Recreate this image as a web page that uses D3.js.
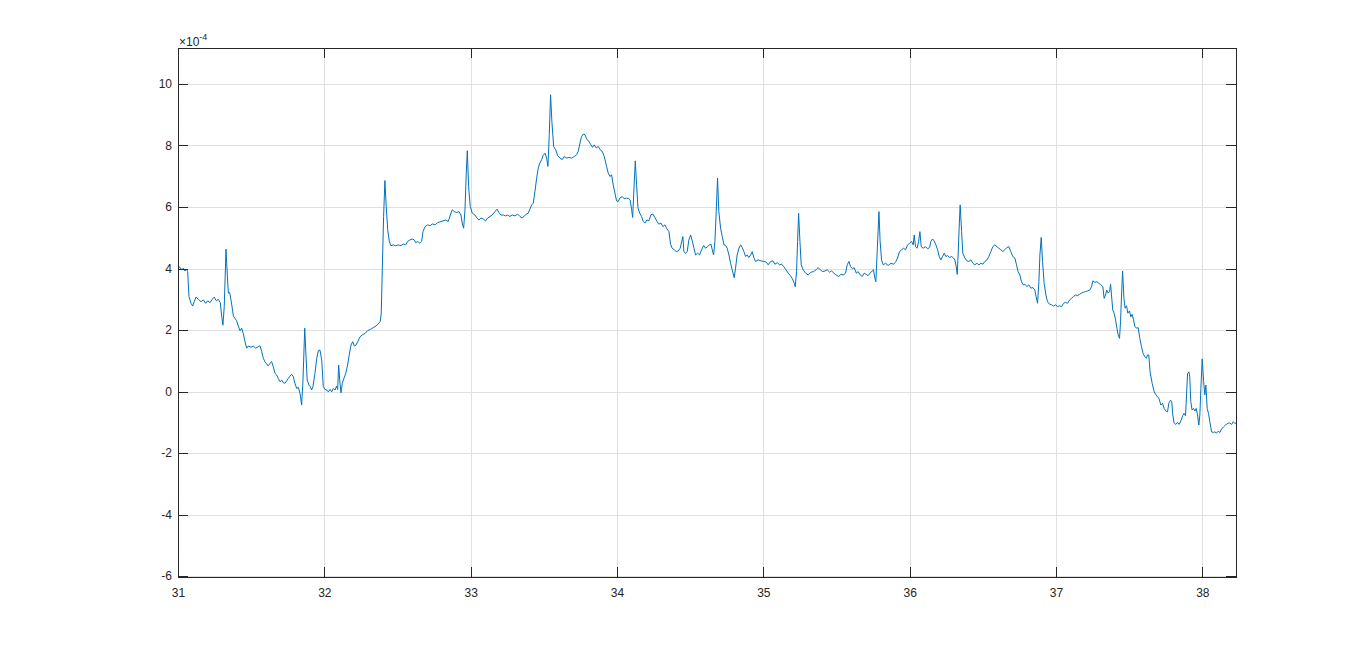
<!DOCTYPE html>
<html>
<head>
  <meta charset="utf-8">
  <title>Signal trace</title>
  <style>
    body { margin: 0; background: #ffffff; }
    .tick text { font-family: "Liberation Sans", Arial, Helvetica, sans-serif; font-size: 12px; fill: #262626; }
    .grid line { stroke: #dfdfdf; stroke-width: 1; shape-rendering: crispEdges; }
    .axis path, .axis line { stroke: #262626; shape-rendering: crispEdges; }
    .trace { fill: none; stroke: #0072bd; stroke-width: 1; }
  </style>
  <script src="https://cdn.jsdelivr.net/npm/d3@7"></script>
</head>
<body>
<script>
// time axis (x) and signal values (in units of 1e-4)
var time = [
  31.000, 31.014, 31.025, 31.036, 31.048, 31.059, 31.066, 31.075, 31.089, 31.100,
  31.111, 31.123, 31.139, 31.157, 31.173, 31.189, 31.203, 31.219, 31.234, 31.248,
  31.262, 31.275, 31.289, 31.299, 31.307, 31.316, 31.328, 31.337, 31.344, 31.353,
  31.362, 31.371, 31.378, 31.389, 31.401, 31.412, 31.424, 31.435, 31.446, 31.458,
  31.469, 31.480, 31.499, 31.514, 31.531, 31.549, 31.560, 31.572, 31.583, 31.594,
  31.606, 31.617, 31.629, 31.640, 31.651, 31.663, 31.674, 31.685, 31.697, 31.709,
  31.719, 31.731, 31.743, 31.754, 31.765, 31.777, 31.788, 31.799, 31.811, 31.822,
  31.834, 31.845, 31.854, 31.866, 31.875, 31.883, 31.895, 31.904, 31.913, 31.922,
  31.936, 31.948, 31.959, 31.970, 31.982, 31.993, 32.004, 32.016, 32.027, 32.039,
  32.050, 32.061, 32.073, 32.084, 32.091, 32.098, 32.105, 32.114, 32.123, 32.134,
  32.146, 32.159, 32.168, 32.182, 32.194, 32.205, 32.216, 32.228, 32.244, 32.259,
  32.278, 32.296, 32.314, 32.334, 32.353, 32.369, 32.382, 32.389, 32.396, 32.405,
  32.414, 32.423, 32.433, 32.444, 32.455, 32.471, 32.487, 32.505, 32.524, 32.539,
  32.556, 32.569, 32.585, 32.601, 32.615, 32.624, 32.638, 32.653, 32.665, 32.674,
  32.688, 32.706, 32.722, 32.738, 32.756, 32.774, 32.792, 32.811, 32.829, 32.847,
  32.861, 32.874, 32.888, 32.904, 32.920, 32.934, 32.942, 32.952, 32.961, 32.970,
  32.977, 32.986, 32.997, 33.011, 33.029, 33.043, 33.057, 33.070, 33.086, 33.102,
  33.116, 33.132, 33.147, 33.166, 33.180, 33.193, 33.207, 33.223, 33.239, 33.253,
  33.268, 33.284, 33.303, 33.321, 33.337, 33.352, 33.366, 33.382, 33.393, 33.405,
  33.417, 33.428, 33.439, 33.451, 33.462, 33.473, 33.485, 33.496, 33.508, 33.519,
  33.528, 33.537, 33.546, 33.555, 33.567, 33.581, 33.594, 33.610, 33.626, 33.639,
  33.656, 33.671, 33.690, 33.708, 33.724, 33.735, 33.747, 33.758, 33.769, 33.781,
  33.792, 33.808, 33.822, 33.833, 33.844, 33.858, 33.872, 33.885, 33.899, 33.913,
  33.929, 33.940, 33.952, 33.963, 33.974, 33.986, 33.997, 34.008, 34.020, 34.036,
  34.049, 34.066, 34.081, 34.090, 34.100, 34.107, 34.114, 34.125, 34.134, 34.143,
  34.155, 34.168, 34.179, 34.191, 34.204, 34.218, 34.232, 34.245, 34.259, 34.273,
  34.286, 34.300, 34.314, 34.327, 34.341, 34.355, 34.366, 34.377, 34.391, 34.405,
  34.418, 34.432, 34.442, 34.450, 34.457, 34.469, 34.480, 34.491, 34.503, 34.514,
  34.526, 34.537, 34.551, 34.564, 34.578, 34.592, 34.605, 34.619, 34.630, 34.642,
  34.651, 34.660, 34.669, 34.678, 34.687, 34.696, 34.708, 34.719, 34.731, 34.742,
  34.753, 34.765, 34.776, 34.787, 34.801, 34.810, 34.821, 34.833, 34.845, 34.856,
  34.867, 34.879, 34.890, 34.901, 34.913, 34.924, 34.936, 34.947, 34.965, 34.983,
  35.002, 35.020, 35.033, 35.050, 35.065, 35.079, 35.095, 35.111, 35.125, 35.140,
  35.154, 35.170, 35.184, 35.197, 35.209, 35.218, 35.227, 35.234, 35.241, 35.250,
  35.259, 35.272, 35.289, 35.307, 35.325, 35.343, 35.361, 35.375, 35.389, 35.405,
  35.421, 35.436, 35.453, 35.466, 35.482, 35.498, 35.514, 35.530, 35.546, 35.562,
  35.573, 35.585, 35.596, 35.610, 35.621, 35.635, 35.648, 35.662, 35.676, 35.689,
  35.703, 35.716, 35.730, 35.744, 35.753, 35.762, 35.769, 35.778, 35.790, 35.798,
  35.808, 35.819, 35.835, 35.853, 35.872, 35.890, 35.906, 35.917, 35.931, 35.945,
  35.958, 35.972, 35.986, 35.999, 36.013, 36.024, 36.031, 36.040, 36.051, 36.061,
  36.070, 36.079, 36.092, 36.109, 36.122, 36.136, 36.145, 36.156, 36.167, 36.179,
  36.191, 36.202, 36.213, 36.225, 36.236, 36.247, 36.259, 36.273, 36.286, 36.300,
  36.309, 36.318, 36.325, 36.331, 36.338, 36.345, 36.355, 36.363, 36.377, 36.391,
  36.404, 36.418, 36.432, 36.445, 36.459, 36.473, 36.487, 36.500, 36.514, 36.528,
  36.541, 36.555, 36.568, 36.582, 36.596, 36.609, 36.623, 36.637, 36.650, 36.664,
  36.678, 36.691, 36.705, 36.719, 36.730, 36.741, 36.753, 36.764, 36.776, 36.787,
  36.801, 36.814, 36.828, 36.842, 36.855, 36.864, 36.874, 36.883, 36.890, 36.899,
  36.908, 36.919, 36.931, 36.942, 36.956, 36.970, 36.983, 36.997, 37.011, 37.024,
  37.038, 37.052, 37.065, 37.079, 37.093, 37.106, 37.120, 37.133, 37.147, 37.161,
  37.174, 37.188, 37.202, 37.215, 37.231, 37.243, 37.252, 37.265, 37.279, 37.293,
  37.306, 37.320, 37.329, 37.338, 37.347, 37.356, 37.366, 37.373, 37.379, 37.388,
  37.397, 37.407, 37.416, 37.425, 37.434, 37.441, 37.448, 37.455, 37.464, 37.472,
  37.482, 37.491, 37.502, 37.511, 37.520, 37.530, 37.539, 37.552, 37.561, 37.573,
  37.584, 37.595, 37.607, 37.618, 37.625, 37.634, 37.643, 37.657, 37.671, 37.680,
  37.694, 37.705, 37.716, 37.728, 37.739, 37.750, 37.762, 37.771, 37.783, 37.791,
  37.798, 37.807, 37.819, 37.830, 37.841, 37.853, 37.865, 37.875, 37.885, 37.892,
  37.899, 37.908, 37.914, 37.921, 37.930, 37.940, 37.949, 37.958, 37.967, 37.976,
  37.983, 37.990, 37.999, 38.009, 38.017, 38.024, 38.033, 38.042, 38.051, 38.063,
  38.074, 38.085, 38.097, 38.108, 38.120, 38.131, 38.145, 38.158, 38.172, 38.186,
  38.200, 38.211, 38.222, 38.231
];
var signal = [
  4.06, 4.04, 3.95, 4.01, 3.92, 3.98, 3.90, 3.09, 2.87, 2.78,
  2.92, 3.07, 3.00, 2.92, 2.98, 2.87, 2.95, 2.89, 3.00, 3.07,
  2.95, 3.00, 2.89, 2.43, 2.16, 2.76, 4.63, 3.79, 3.20, 3.22,
  2.98, 2.71, 2.46, 2.38, 2.30, 2.13, 1.98, 2.06, 1.89, 1.62,
  1.41, 1.48, 1.44, 1.48, 1.41, 1.46, 1.49, 1.30, 1.08, 0.97,
  0.90, 0.83, 0.92, 0.97, 0.81, 0.59, 0.54, 0.43, 0.32, 0.37,
  0.29, 0.27, 0.35, 0.43, 0.50, 0.56, 0.48, 0.27, 0.10, 0.14,
  -0.06, -0.44, 0.37, 2.06, 1.13, 0.37, 0.21, 0.16, 0.05, 0.16,
  0.59, 1.08, 1.33, 1.35, 1.03, 0.16, 0.07, 0.05, -0.01, 0.07,
  -0.01, 0.10, 0.05, 0.18, 0.07, 0.86, 0.37, -0.04, 0.27, 0.43,
  0.59, 0.86, 1.13, 1.51, 1.62, 1.48, 1.51, 1.62, 1.78, 1.84,
  1.89, 1.98, 2.02, 2.08, 2.13, 2.20, 2.28, 2.55, 3.96, 5.69,
  6.86, 6.02, 5.26, 4.88, 4.74, 4.77, 4.74, 4.77, 4.74, 4.80,
  4.77, 4.88, 4.93, 4.96, 4.93, 4.84, 4.88, 4.82, 4.88, 5.20,
  5.36, 5.42, 5.39, 5.45, 5.42, 5.49, 5.52, 5.55, 5.58, 5.53,
  5.74, 5.91, 5.85, 5.82, 5.85, 5.74, 5.48, 5.31, 5.91, 7.10,
  7.83, 6.67, 6.02, 5.80, 5.74, 5.64, 5.58, 5.64, 5.61, 5.55,
  5.64, 5.69, 5.74, 5.85, 5.93, 5.82, 5.74, 5.74, 5.71, 5.74,
  5.69, 5.74, 5.71, 5.77, 5.69, 5.64, 5.71, 5.77, 5.80, 5.93,
  6.07, 6.13, 6.50, 6.94, 7.27, 7.43, 7.54, 7.68, 7.75, 7.59,
  7.32, 8.35, 9.65, 8.78, 7.97, 7.86, 7.68, 7.59, 7.54, 7.64,
  7.59, 7.61, 7.59, 7.64, 7.70, 7.81, 8.08, 8.29, 8.37, 8.35,
  8.22, 8.13, 8.02, 7.94, 8.02, 7.92, 7.97, 7.86, 7.81, 7.64,
  7.32, 7.10, 6.99, 7.05, 6.72, 6.45, 6.20, 6.18, 6.29, 6.34,
  6.27, 6.29, 6.27, 6.23, 5.91, 5.66, 6.40, 7.50, 6.72, 5.98,
  5.80, 5.69, 5.53, 5.48, 5.58, 5.55, 5.75, 5.77, 5.66, 5.53,
  5.44, 5.48, 5.36, 5.42, 5.29, 5.20, 4.79, 4.66, 4.61, 4.55,
  4.57, 4.66, 4.88, 5.04, 4.55, 4.50, 4.55, 4.93, 5.09, 4.90,
  4.66, 4.44, 4.50, 4.44, 4.61, 4.75, 4.66, 4.71, 4.77, 4.79,
  4.61, 4.44, 4.88, 5.85, 6.94, 5.85, 5.31, 5.04, 4.77, 4.75,
  4.66, 4.44, 4.17, 3.96, 3.70, 4.01, 4.44, 4.66, 4.77, 4.68,
  4.55, 4.39, 4.44, 4.36, 4.44, 4.55, 4.34, 4.23, 4.28, 4.25,
  4.23, 4.21, 4.12, 4.23, 4.25, 4.14, 4.19, 4.12, 4.14, 4.06,
  3.96, 3.85, 3.77, 3.68, 3.55, 3.41, 3.90, 4.88, 5.80, 4.88,
  4.12, 3.96, 3.85, 3.79, 3.88, 3.90, 3.96, 4.03, 3.96, 3.90,
  3.92, 3.96, 3.88, 3.92, 3.85, 3.79, 3.74, 3.81, 3.79, 3.85,
  4.12, 4.23, 4.06, 3.99, 4.03, 3.85, 3.90, 3.79, 3.74, 3.85,
  3.81, 3.77, 3.85, 3.92, 3.96, 3.68, 3.57, 4.55, 5.85, 4.88,
  4.28, 4.12, 4.17, 4.10, 4.17, 4.14, 4.23, 4.34, 4.55, 4.61,
  4.66, 4.61, 4.77, 4.82, 4.88, 4.77, 5.09, 4.71, 4.66, 4.88,
  5.20, 4.71, 4.66, 4.71, 4.64, 4.68, 4.88, 4.96, 4.90, 4.77,
  4.61, 4.39, 4.28, 4.39, 4.50, 4.39, 4.42, 4.36, 4.39, 4.34,
  4.28, 4.06, 3.81, 4.44, 5.31, 6.07, 5.20, 4.50, 4.34, 4.25,
  4.23, 4.28, 4.17, 4.12, 4.17, 4.12, 4.17, 4.14, 4.23, 4.28,
  4.39, 4.55, 4.71, 4.77, 4.71, 4.66, 4.61, 4.55, 4.61, 4.68,
  4.71, 4.55, 4.39, 4.34, 4.12, 3.90, 3.79, 3.57, 3.47, 3.49,
  3.41, 3.47, 3.36, 3.38, 3.30, 3.09, 2.87, 3.57, 4.44, 5.01,
  4.23, 3.52, 3.14, 2.92, 2.84, 2.82, 2.78, 2.82, 2.76, 2.79,
  2.76, 2.87, 2.90, 2.87, 2.98, 3.03, 3.09, 3.14, 3.12, 3.16,
  3.20, 3.23, 3.25, 3.27, 3.30, 3.41, 3.60, 3.55, 3.57, 3.52,
  3.47, 3.41, 3.03, 3.14, 3.30, 3.20, 3.25, 3.49, 3.14, 2.65,
  2.55, 2.33, 2.06, 1.84, 1.73, 2.27, 3.14, 3.92, 3.03, 2.71,
  2.79, 2.55, 2.62, 2.43, 2.51, 2.33, 2.11, 2.06, 2.08, 1.73,
  1.46, 1.24, 1.13, 1.08, 1.19, 1.19, 0.64, 0.27, -0.01, -0.09,
  -0.17, -0.24, -0.44, -0.38, -0.55, -0.63, -0.66, -0.38, -0.28, -0.33,
  -0.76, -1.02, -1.07, -1.00, -1.07, -0.96, -0.79, -0.71, -0.79, -0.11,
  0.59, 0.64, 0.48, -0.33, -0.60, -0.55, -0.63, -0.55, -0.76, -1.09,
  -0.76, 0.10, 1.06, 0.32, -0.11, 0.21, -0.55, -0.71, -0.98, -1.31,
  -1.33, -1.31, -1.35, -1.29, -1.33, -1.22, -1.15, -1.09, -1.04, -1.02,
  -1.07, -0.98, -1.04, -1.02
];

// axis ticks and limits
var xTicks = [31, 32, 33, 34, 35, 36, 37, 38];
var yTicks = [-6, -4, -2, 0, 2, 4, 6, 8, 10];
var xLimits = [31, 38.23];
var yLimits = [-6.03, 11.17];
var yExponent = "-4";

// set the dimensions and margins of the graph
var margin = {top: 48, right: 130, bottom: 74, left: 178},
    width = 1366 - margin.left - margin.right,
    height = 651 - margin.top - margin.bottom;

var data = time.map(function(t, i) { return {t: t, v: signal[i]}; });

// set the ranges
var x = d3.scaleLinear().domain(xLimits).range([0, width]);
var y = d3.scaleLinear().domain(yLimits).range([height, 0]);

var svg = d3.select("body").append("svg")
    .attr("width", 1366)
    .attr("height", 651)
  .append("g")
    .attr("transform", "translate(" + margin.left + "," + margin.top + ")");

svg.append("defs").append("clipPath")
    .attr("id", "plot-area")
  .append("rect")
    .attr("width", width)
    .attr("height", height);

// grid lines
svg.append("g")
    .attr("class", "grid")
  .selectAll("line.gx")
    .data(xTicks)
  .enter().append("line")
    .attr("x1", function(d) { return Math.round(x(d)) + 0.5; })
    .attr("x2", function(d) { return Math.round(x(d)) + 0.5; })
    .attr("y1", 0)
    .attr("y2", height);

svg.append("g")
    .attr("class", "grid")
  .selectAll("line.gy")
    .data(yTicks)
  .enter().append("line")
    .attr("x1", 0)
    .attr("x2", width)
    .attr("y1", function(d) { return Math.round(y(d)) + 0.5; })
    .attr("y2", function(d) { return Math.round(y(d)) + 0.5; });

// the signal trace
var line = d3.line()
    .x(function(d) { return x(d.t); })
    .y(function(d) { return y(d.v); });

svg.append("path")
    .datum(data)
    .attr("class", "trace")
    .attr("clip-path", "url(#plot-area)")
    .attr("d", line);

// axes, ticks pointing inward like the box of a MATLAB plot
var fmt = function(d) { return String(d); };

svg.append("g")
    .attr("class", "axis")
    .attr("transform", "translate(0," + height + ")")
    .call(d3.axisBottom(x).tickValues(xTicks).tickFormat(fmt)
        .tickSizeInner(-10).tickSizeOuter(0).tickPadding(11));

svg.append("g")
    .attr("class", "axis")
    .call(d3.axisLeft(y).tickValues(yTicks).tickFormat(fmt)
        .tickSizeInner(-10).tickSizeOuter(0).tickPadding(6));

svg.append("g")
    .attr("class", "axis")
    .call(d3.axisTop(x).tickValues(xTicks).tickFormat("")
        .tickSizeInner(-10).tickSizeOuter(0));

svg.append("g")
    .attr("class", "axis")
    .attr("transform", "translate(" + width + ",0)")
    .call(d3.axisRight(y).tickValues(yTicks).tickFormat("")
        .tickSizeInner(-10).tickSizeOuter(0));

svg.selectAll(".axis .domain").attr("stroke", "#262626");

// exponent label above the y axis
var expLabel = svg.append("text")
    .attr("x", 1)
    .attr("y", -2)
    .style("font-family", "'Liberation Sans', Arial, Helvetica, sans-serif")
    .style("font-size", "12px")
    .style("fill", "#262626");
expLabel.append("tspan").text("\u00d710");
expLabel.append("tspan")
    .attr("dy", -6)
    .style("font-size", "9px")
    .text(yExponent);
</script>
</body>
</html>
